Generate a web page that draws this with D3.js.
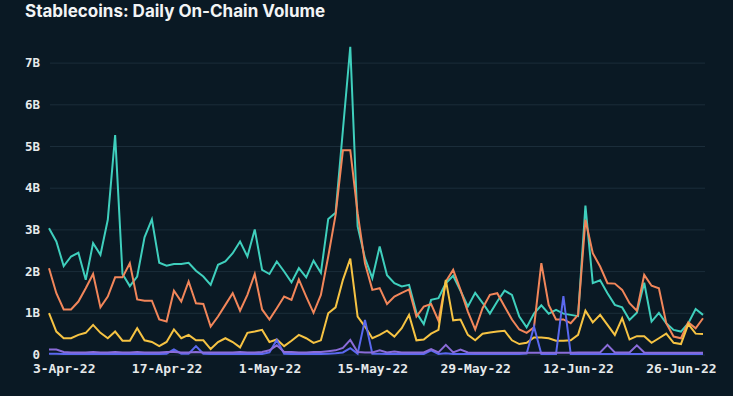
<!DOCTYPE html>
<html>
<head>
<meta charset="utf-8">
<script src="https://cdn.jsdelivr.net/npm/d3@7"></script>
<style>
html,body{margin:0;padding:0;background:#0a1924;}
svg{display:block;}
</style>
</head>
<body>
<svg id="chart" width="733" height="396"></svg>
<script>
const startDate = "2022-04-01";
const tickDates = ["2022-04-03","2022-04-17","2022-05-01","2022-05-15","2022-05-29","2022-06-12","2022-06-26"];
const yTicks = [0,1e9,2e9,3e9,4e9,5e9,6e9,7e9];

// values in billions USD, one per day from 1-Apr-22
const seriesTeal = [3.03,2.71,2.12,2.35,2.44,1.79,2.67,2.39,3.23,5.26,1.93,1.64,1.87,2.81,3.24,2.20,2.13,2.17,2.17,2.20,2.01,1.87,1.67,2.15,2.23,2.43,2.71,2.35,3.00,2.03,1.93,2.23,1.99,1.73,2.07,1.85,2.25,1.96,3.25,3.40,5.39,7.38,3.07,2.31,1.83,2.59,1.90,1.71,1.63,1.67,1.00,0.73,1.31,1.35,1.71,1.89,1.53,1.15,1.48,1.24,0.98,1.27,1.53,1.43,0.91,0.65,0.98,1.18,0.98,1.07,0.98,0.95,0.92,3.57,1.71,1.78,1.47,1.19,1.13,0.83,1.00,1.72,0.79,1.00,0.75,0.59,0.55,0.75,1.09,0.95];
const seriesOrange = [2.07,1.47,1.08,1.08,1.27,1.59,1.93,1.13,1.39,1.85,1.85,2.19,1.32,1.29,1.29,0.84,0.79,1.53,1.27,1.75,1.23,1.21,0.67,0.91,1.19,1.47,1.05,1.43,1.93,1.08,0.84,1.11,1.39,1.31,1.80,1.39,1.00,1.43,2.35,3.35,4.90,4.90,3.39,2.19,1.55,1.59,1.21,1.39,1.48,1.56,0.91,1.15,1.21,0.81,1.75,2.03,1.55,1.03,0.60,1.11,1.43,1.47,1.15,0.84,0.60,0.52,0.65,2.19,1.19,0.84,0.84,0.75,0.95,3.23,2.43,2.11,1.71,1.70,1.55,1.23,1.05,1.91,1.65,1.59,0.75,0.43,0.39,0.77,0.63,0.87];
const seriesYellow = [0.99,0.55,0.39,0.39,0.47,0.52,0.71,0.52,0.39,0.55,0.33,0.33,0.63,0.34,0.30,0.20,0.30,0.60,0.39,0.47,0.34,0.34,0.13,0.30,0.39,0.30,0.17,0.52,0.55,0.59,0.30,0.36,0.20,0.33,0.47,0.39,0.28,0.34,0.99,1.13,1.79,2.30,0.91,0.67,0.39,0.47,0.57,0.43,0.63,0.95,0.34,0.36,0.50,0.59,1.79,0.82,0.84,0.47,0.34,0.50,0.53,0.55,0.57,0.34,0.25,0.28,0.41,0.41,0.39,0.33,0.33,0.34,0.47,1.05,0.77,0.95,0.71,0.47,0.87,0.36,0.44,0.44,0.28,0.39,0.50,0.28,0.25,0.73,0.50,0.49];
const seriesBlue = [0.02,0.02,0.01,0.01,0.01,0.01,0.01,0.01,0.01,0.01,0.01,0.01,0.01,0.01,0.01,0.01,0.02,0.12,0.02,0.02,0.20,0.02,0.01,0.01,0.01,0.01,0.01,0.01,0.01,0.01,0.05,0.35,0.02,0.01,0.01,0.01,0.01,0.01,0.02,0.03,0.05,0.15,0.02,0.83,0.02,0.02,0.01,0.01,0.01,0.01,0.01,0.01,0.10,0.01,0.03,0.01,0.01,0.01,0.01,0.01,0.01,0.01,0.01,0.01,0.01,0.02,0.67,0.01,0.01,0.01,1.40,0.01,0.01,0.01,0.01,0.01,0.01,0.01,0.01,0.01,0.01,0.01,0.01,0.01,0.01,0.01,0.01,0.01,0.01,0.01];
const seriesPurple = [0.12,0.12,0.06,0.05,0.05,0.05,0.06,0.05,0.05,0.06,0.05,0.05,0.06,0.05,0.05,0.05,0.06,0.06,0.05,0.05,0.06,0.05,0.05,0.05,0.05,0.05,0.06,0.05,0.05,0.06,0.10,0.22,0.06,0.06,0.05,0.05,0.06,0.06,0.08,0.10,0.16,0.35,0.06,0.05,0.05,0.10,0.05,0.07,0.05,0.05,0.05,0.05,0.13,0.05,0.23,0.05,0.12,0.05,0.04,0.04,0.04,0.04,0.04,0.04,0.04,0.04,0.04,0.04,0.04,0.04,0.04,0.04,0.05,0.05,0.05,0.05,0.23,0.05,0.05,0.05,0.22,0.05,0.04,0.04,0.04,0.04,0.04,0.04,0.04,0.04];

const seriesNames = ["Teal","Orange","Yellow","Blue","Purple"];
const seriesColors = ["#3fcfbd","#f2865a","#f6c343","#5a68ef","#8b6cd9"];
const seriesValues = [seriesTeal, seriesOrange, seriesYellow, seriesBlue, seriesPurple];
const drawOrder = [0,1,2,3,4];

const parse = d3.timeParse("%Y-%m-%d");
const t0 = parse(startDate);
const dates = seriesTeal.map((_, i) => d3.timeDay.offset(t0, i));

const svg = d3.select("#chart");
const x = d3.scaleTime().domain([dates[0], dates[dates.length-1]]).range([49, 703]);
const y = d3.scaleLinear().domain([0, 7e9]).range([354.5, 62.6]);

// title
svg.append("text")
  .attr("x", 25).attr("y", 17)
  .attr("fill", "#f2f4f5")
  .attr("font-family", "Inter, 'Noto Sans', sans-serif")
  .attr("font-weight", 700)
  .attr("font-size", 17)
  .text("Stablecoins: Daily On-Chain Volume");

// y grid + labels
const yAxis = d3.axisLeft(y).tickValues(yTicks)
  .tickSize(-655)
  .tickPadding(10)
  .tickFormat(d => d === 0 ? "0" : d3.format(".0f")(d / 1e9) + "B");
const gy = svg.append("g").attr("transform", "translate(50,0)").call(yAxis);
gy.select(".domain").remove();
gy.selectAll(".tick line").attr("stroke", "#1b2d3a").attr("stroke-width", 1)
  .attr("x1", 0).attr("x2", 655);
gy.selectAll(".tick text")
  .attr("fill", "#e6e9eb")
  .attr("font-family", "'DejaVu Sans Mono', 'Liberation Mono', monospace")
  .attr("font-size", 12.5)
  .attr("font-weight", 600)
  .attr("x", -10);

// x axis
const xAxis = d3.axisBottom(x).tickValues(tickDates.map(parse))
  .tickSize(0).tickPadding(9)
  .tickFormat(d3.timeFormat("%-d-%b-%y"));
const gx = svg.append("g").attr("transform", "translate(0,355)").call(xAxis);
gx.select(".domain").remove();
gx.selectAll(".tick text")
  .attr("fill", "#e6e9eb")
  .attr("font-family", "'DejaVu Sans Mono', 'Liberation Mono', monospace")
  .attr("font-size", 13)
  .attr("font-weight", 600);

const line = d3.line().x((d, i) => x(dates[i])).y(d => y(d * 1e9));
drawOrder.forEach(k => {
  svg.append("path")
    .datum(seriesValues[k])
    .attr("fill", "none")
    .attr("stroke", seriesColors[k])
    .attr("stroke-width", 2)
    .attr("stroke-linejoin", "miter")
    .attr("d", line);
});
</script>
</body>
</html>
